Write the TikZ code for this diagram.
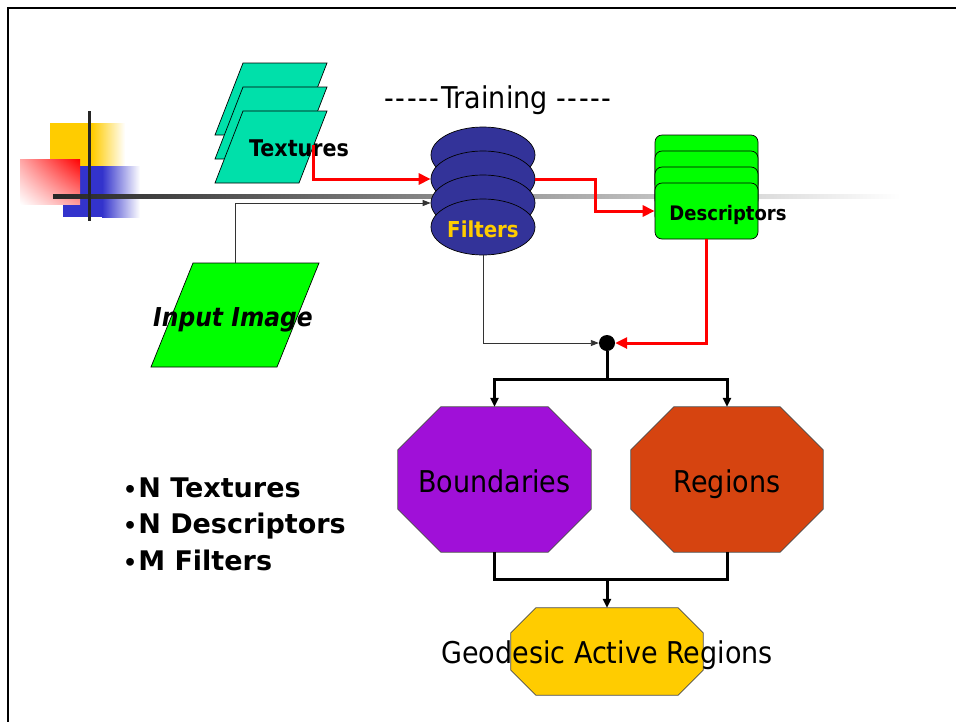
\documentclass[tikz,border=0pt]{standalone}
\usepackage{fontspec}
\setmainfont{DejaVu Sans}[FakeStretch=0.9]
\newfontfamily\dvs{DejaVu Sans}
\usetikzlibrary{arrows.meta,shapes.geometric,calc,shadings}
\definecolor{texc}{RGB}{0,224,170}
\definecolor{filtc}{RGB}{51,51,153}
\definecolor{goldc}{RGB}{255,204,0}
\definecolor{greenc}{RGB}{0,255,0}
\definecolor{bndc}{RGB}{160,16,216}
\definecolor{regc}{RGB}{214,68,16}
\definecolor{logoB}{RGB}{51,51,204}
\newcommand\fs[1]{\fontsize{#1}{#1}\selectfont}
\newcommand\hy{-\kern1.6pt}
\newcommand\bul{{\fs{22}•}\kern1pt}
% octagon: name, cx, cy, half w, half h, cut, colour
\newcommand\octo[7]{%
  \node[minimum width=2*#4, minimum height=2*#5, inner sep=0] (#1) at (#2,#3) {};
  \filldraw[fill=#7, draw=black!70, line width=0.7]
    ($(#1.north west)+(#6,0)$) -- ($(#1.north east)+(-#6,0)$) --
    ($(#1.north east)+(0,#6)$) -- ($(#1.south east)+(0,-#6)$) --
    ($(#1.south east)+(-#6,0)$) -- ($(#1.south west)+(#6,0)$) --
    ($(#1.south west)+(0,-#6)$) -- ($(#1.north west)+(0,#6)$) -- cycle;}
% parallelogram: name, top-left x, top y, width, height, skew, colour
\newcommand\para[7]{%
  \filldraw[fill=#7, draw=black, line width=0.7]
    (#2,#3) -- ({#2+#4},#3) -- ({#2+#4-#6},{#3+#5}) -- ({#2-#6},{#3+#5}) -- cycle;
  \node[minimum width=#4, minimum height=#5, inner sep=0] (#1) at ({#2+(#4-#6)/2},{#3+#5/2}) {};}
\tikzset{
  filt/.style={ellipse, fill=filtc, draw=black, line width=0.7, minimum width=104, minimum height=56, inner sep=0},
  desc/.style={rectangle, rounded corners=7, fill=greenc, draw=black, line width=0.7, minimum width=103, minimum height=56, inner sep=0},
  redarr/.style={draw=red, line width=3, -{Triangle[length=12,width=11]}},
  blkarr/.style={draw=black, line width=3, -{Triangle[length=9,width=8]}},
  thinarr/.style={draw=black!80, line width=0.9, -{Triangle[length=8,width=6]}},
  lbl/.style={inner sep=0, text=black, anchor=base},
  bullet/.style={inner sep=0, text=black, anchor=base west, font=\dvs\bfseries\fs{27}},
}
\begin{document}
\begin{tikzpicture}[x=1pt,y=-1pt]
\useasboundingbox (0,0) rectangle (956,721);
\fill[white] (0,0) rectangle (956,721);
% frame
\draw[line width=2.2, black] (8.3,722) -- (8.3,8.3) -- (957,8.3);
% logo
\fill[goldc] (50,123) rectangle (92,167);
\shade[left color=goldc, right color=white] (92,123) rectangle (125,167);
\fill[logoB] (63,166) rectangle (102,217);
\shade[left color=logoB, right color=white] (102,166) rectangle (140,217);
\shade[upper right=red, upper left=red!35, lower right=red!40, lower left=white] (20,159) rectangle (80,204);
\shade[left color=black!85, right color=white] (53,194) rectangle (900,198);
\draw[line width=3, black!85] (89,111) -- (89,221);
% textures
\para{tex1}{243}{63}{84}{72}{28}{texc}
\para{tex2}{243}{87}{84}{72}{28}{texc}
\para{tex3}{243}{111}{84}{72}{28}{texc}
\node[lbl, font=\bfseries\fs{23}] (textures) at (299,156.7) {Textures};
\coordinate (texout) at (313,145);
% training
\node[lbl, font=\fs{30}] (training) at (498,108) {\hy\hy\hy\hy\hy Training \hy\hy\hy\hy-};
% filters
\node[filt] (f1) at (483,155) {};
\node[filt] (f2) at (483,179) {};
\node[filt] (f3) at (483,203) {};
\node[filt] (f4) at (483,227) {};
\node[lbl, text=goldc, font=\bfseries\fs{22}] (filters) at (483,237) {Filters};
% descriptors
\node[desc] (d1) at (706.5,163) {};
\node[desc] (d2) at (706.5,179) {};
\node[desc] (d3) at (706.5,195) {};
\node[desc] (d4) at (706.5,211) {};
\node[lbl, font=\bfseries\fs{20}] (descriptors) at (728,220) {Descriptors};
% input image
\para{inp}{193}{263}{126}{104}{42}{greenc}
\node[lbl, font=\bfseries\itshape\fs{26}] (inptext) at (233,326) {Input Image};
% dot
\node[circle, fill=black, minimum size=16, inner sep=0] (dot) at (607,343) {};
\coordinate (split) at (607,379);
\coordinate (merge) at (607,579);
% octagons
\octo{bnd}{494.5}{479.5}{96.5}{72.5}{43}{bndc}
\octo{reg}{727}{479.5}{96}{72.5}{43}{regc}
\octo{gar}{607}{651.5}{96}{43.5}{25}{goldc}
\node[lbl, font=\fs{30}] (bndtext) at (494.5,492) {Boundaries};
\node[lbl, font=\fs{30}] (regtext) at (727,492) {Regions};
\node[lbl, font=\fs{30}] (gartext) at (607,663) {Geodesic Active Regions};
% connectors
\draw[redarr] (texout) |- (f2.west);
\draw[redarr] (f2.east) -- ++(60,0) |- (d4.west);
\draw[redarr] (d4.south) |- (dot.east);
\draw[thinarr] (inp.north) |- (f3.west);
\draw[thinarr] (f4.south) |- (dot.west);
\draw[black, line width=3] (dot.south) -- (split);
\draw[blkarr] (split) -| (bnd.north);
\draw[blkarr] (split) -| (reg.north);
\draw[black, line width=3] (bnd.south) |- (merge) -| (reg.south);
\draw[blkarr] (merge) -- (gar.north);
% bullets
\node[bullet] (b1) at (123,497) {\bul N Textures};
\node[bullet] (b2) at (123,533) {\bul N Descriptors};
\node[bullet] (b3) at (123,570) {\bul M Filters};
\end{tikzpicture}
\end{document}
